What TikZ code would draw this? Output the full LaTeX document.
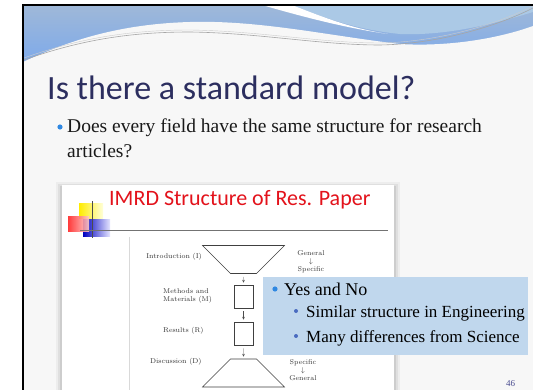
\documentclass[tikz,border=0pt]{standalone}
\usepackage{fontspec}
\newfontfamily\slidefont{Liberation Serif}
\newfontfamily\headfont{Carlito}
\usepackage{tikz}
\usetikzlibrary{shapes.geometric,arrows,positioning}
\definecolor{slidebg}{HTML}{F7F7F7}
\definecolor{titlenavy}{HTML}{2C2E5F}
\definecolor{dotblue}{HTML}{2F88E2}
\definecolor{subdot}{HTML}{4A6BC0}
\definecolor{calloutbg}{HTML}{C0D7ED}
\definecolor{imrdred}{HTML}{E3121B}
\definecolor{bandtop}{HTML}{9FB8D8}
\definecolor{bandbot}{HTML}{7EAAEA}
\definecolor{bandlight}{HTML}{ABC9E6}
\definecolor{pagenum}{HTML}{4A4C90}
\begin{document}
\begin{tikzpicture}[x=1pt,y=-1pt,
  slidetext/.style={font=\slidefont\fontsize{19.5}{24}\selectfont, text=black!90, inner sep=0pt, anchor=base west},
  calltext/.style={font=\slidefont\fontsize{18}{22}\selectfont, inner sep=0pt, anchor=base west},
  subtext/.style={font=\slidefont\fontsize{17}{21}\selectfont, inner sep=0pt, anchor=base west},
  figlabel/.style={font=\fontsize{7}{8}\selectfont, text=black!80, inner sep=0pt, align=left},
  stagebox/.style={draw=black!75, line width=0.6pt, minimum width=19pt, minimum height=23pt, inner sep=0pt},
  funnel/.style={trapezium, draw=black!75, line width=0.6pt, trapezium left angle=45, trapezium right angle=45,
    inner sep=0pt, text width=26pt, text height=14pt, text depth=14pt},
  flow/.style={->, >=stealth, line width=0.3pt, black!70, shorten <=3pt, shorten >=2pt}]
\useasboundingbox (0,0) rectangle (533,390);
\fill[white] (0,0) rectangle (533,390);
\fill[slidebg] (23,5) rectangle (533,390);
% header band
\shade[top color=bandtop, bottom color=bandbot] (23,5) rectangle (533,62);
\fill[bandlight] (292,5) .. controls (330,20) and (360,30) .. (400,34)
  .. controls (450,36) and (500,22) .. (533,12) -- (533,5) -- cycle;
\fill[white] (262,5) -- (292,5) .. controls (330,20) and (355,29) .. (388,34)
  .. controls (345,28) and (300,16) .. (262,5);
\fill[slidebg] (23,62) .. controls (70,40) and (120,24) .. (190,22)
  .. controls (260,20) and (330,36) .. (400,44) .. controls (450,47) and (500,38) .. (533,26)
  -- (533,70) -- (23,70) -- cycle;
\draw[gray!70, line width=0.6pt] (24,60) .. controls (80,40) and (130,32) .. (190,32)
  .. controls (260,33) and (320,45) .. (380,45) .. controls (440,44) and (500,25) .. (533,8);
\draw[gray!40, line width=0.4pt] (24,58) .. controls (80,38) and (130,30) .. (190,30)
  .. controls (260,31) and (320,43) .. (380,43) .. controls (440,42) and (500,23) .. (533,6);
\draw[line width=1.6pt] (23,390) -- (23,5) -- (533,5);
% title and bullet
\node[font=\headfont\fontsize{34}{40}\selectfont, text=titlenavy, inner sep=0pt, anchor=base west] (title) at (47,100) {Is there a standard model?};
\fill[dotblue] (60,127) circle (2.6);
\node[slidetext] (question) at (67,133) {Does every field have the same structure for research};
\node[slidetext] (question2) at (67,158) {articles?};
% picture of the IMRD structure
\foreach \s/\o in {6/0.04,4/0.06,2/0.08}
  \fill[black, opacity=\o] (62-\s,185-\s+3) rectangle (394+\s,390);
\fill[white] (62,185) rectangle (394,390);
\node[font=\headfont\fontsize{22}{26}\selectfont, text=imrdred, inner sep=0pt, anchor=base west] (imrd) at (109,206) {IMRD Structure of Res. Paper};
\shade[left color=yellow!85!orange, right color=yellow!15] (79,204) rectangle (103,219);
\shade[left color=blue!75!black, right color=blue!10] (83,220) rectangle (110,237);
\shade[left color=red!85, right color=red!20, opacity=0.9] (68,217) rectangle (89,232);
\draw[black!70, line width=0.7pt] (92,201) -- (92,238);
\draw[black!55, line width=0.8pt] (80,230) -- (388,230);
\draw[black!15, line width=0.5pt] (129,237) -- (129,390);
\node[funnel, shape border rotate=180] (intro) at (243.5,259.5) {};
\node[stagebox] (meth) at (243.5,296.5) {};
\node[stagebox] (res) at (243.5,333.5) {};
\node[funnel] (disc) at (243.5,373) {};
\path[flow] (intro) edge (meth) (meth) edge (res) (res) edge (disc);
\node[figlabel, anchor=east] (introlbl) at (202,257) {Introduction (I)};
\node[figlabel, anchor=west] (methlbl) at (163,296) {Methods and\\Materials (M)};
\node[figlabel, anchor=west] (reslbl) at (163,331) {Results (R)};
\node[figlabel, anchor=west] (disclbl) at (150,362) {Discussion (D)};
\node[figlabel, align=center] (gentospec) at (311,262) {General\\$\downarrow$\\Specific};
\node[figlabel, align=center] (spectogen) at (303,370) {Specific\\$\downarrow$\\General};
% callout
\fill[calloutbg] (263,277) rectangle (528,355);
\fill[dotblue] (275,289) circle (2.6);
\node[calltext] (yesno) at (284,295) {Yes and No};
\fill[subdot] (296,311) circle (2);
\node[subtext] (similar) at (306,317) {Similar structure in Engineering};
\fill[subdot] (296,336) circle (2);
\node[subtext] (differ) at (306,342) {Many differences from Science};
\node[font=\slidefont\fontsize{9}{10}\selectfont, text=pagenum, inner sep=0pt, anchor=base west] (page) at (506,386) {46};
\end{tikzpicture}
\end{document}
